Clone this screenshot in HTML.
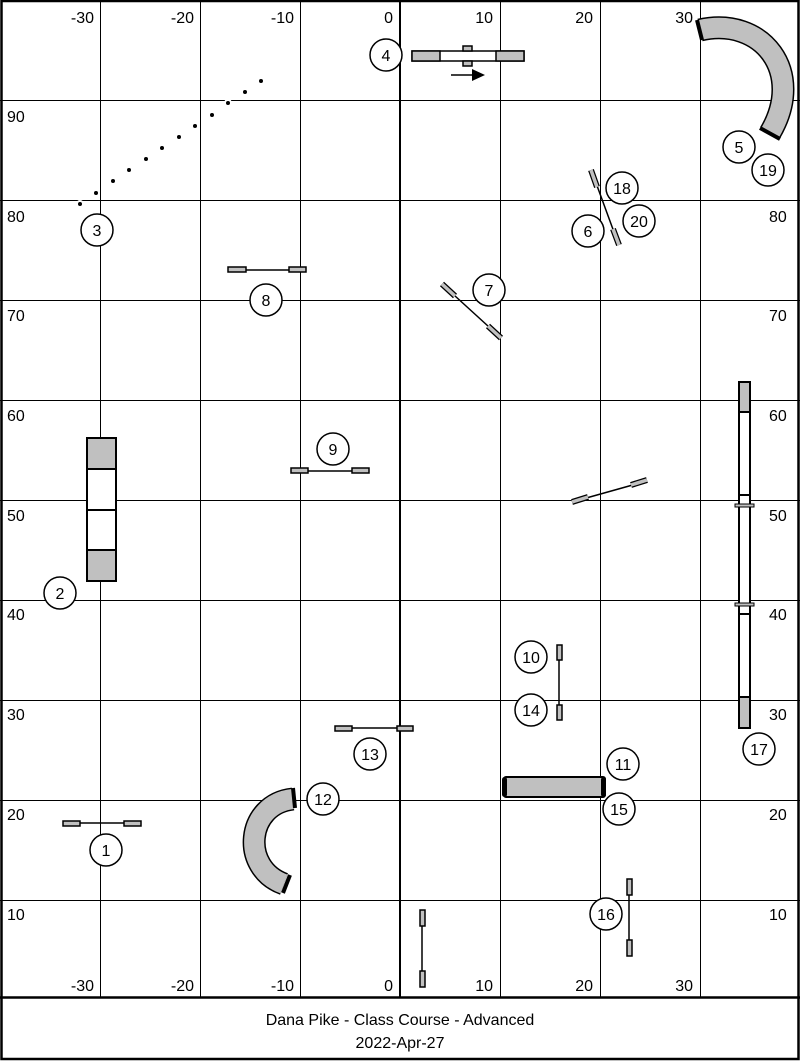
<!DOCTYPE html>
<html><head><meta charset="utf-8"><style>
html,body{margin:0;padding:0;background:#fff;}
svg{display:block;}
text{font-family:"Liberation Sans",Arial,sans-serif;font-size:16px;fill:#000;}
.n{text-anchor:middle;}
.g{stroke:#000;stroke-width:1;shape-rendering:crispEdges;}
.b{fill:#c0c0c0;stroke:#000;stroke-width:1.5;}
.c{fill:#fff;stroke:#000;stroke-width:1.5;}
</style></head><body>
<svg width="800" height="1061" viewBox="0 0 800 1061" xmlns="http://www.w3.org/2000/svg">
<rect x="0" y="0" width="800" height="1061" fill="#fff"/>
<g class="g">
<line x1="100.5" y1="0" x2="100.5" y2="997"/><line x1="200.5" y1="0" x2="200.5" y2="997"/>
<line x1="300.5" y1="0" x2="300.5" y2="997"/><line x1="500.5" y1="0" x2="500.5" y2="997"/>
<line x1="600.5" y1="0" x2="600.5" y2="997"/><line x1="700.5" y1="0" x2="700.5" y2="997"/>
<line x1="0" y1="100.5" x2="800" y2="100.5"/><line x1="0" y1="200.5" x2="800" y2="200.5"/>
<line x1="0" y1="300.5" x2="800" y2="300.5"/><line x1="0" y1="400.5" x2="800" y2="400.5"/>
<line x1="0" y1="500.5" x2="800" y2="500.5"/><line x1="0" y1="600.5" x2="800" y2="600.5"/>
<line x1="0" y1="700.5" x2="800" y2="700.5"/><line x1="0" y1="800.5" x2="800" y2="800.5"/>
<line x1="0" y1="900.5" x2="800" y2="900.5"/>
</g>
<line x1="400" y1="0" x2="400" y2="997" stroke="#000" stroke-width="2" shape-rendering="crispEdges"/>
<rect x="1.5" y="1" width="797" height="1058" fill="none" stroke="#000" stroke-width="2.5"/>
<line x1="0" y1="997.5" x2="800" y2="997.5" stroke="#000" stroke-width="2.5"/>
<g style="text-anchor:end">
<text x="94" y="23">-30</text><text x="194" y="23">-20</text><text x="294" y="23">-10</text>
<text x="393" y="23">0</text><text x="493" y="23">10</text><text x="593" y="23">20</text><text x="693" y="23">30</text>
<text x="94" y="991">-30</text><text x="194" y="991">-20</text><text x="294" y="991">-10</text>
<text x="393" y="991">0</text><text x="493" y="991">10</text><text x="593" y="991">20</text><text x="693" y="991">30</text>
</g>
<g>
<text x="7" y="122">90</text><text x="7" y="222">80</text><text x="7" y="321">70</text>
<text x="7" y="421">60</text><text x="7" y="521">50</text><text x="7" y="620">40</text>
<text x="7" y="720">30</text><text x="7" y="820">20</text><text x="7" y="920">10</text>
<text x="769" y="222">80</text><text x="769" y="321">70</text>
<text x="769" y="421">60</text><text x="769" y="521">50</text><text x="769" y="620">40</text>
<text x="769" y="720">30</text><text x="769" y="820">20</text><text x="769" y="920">10</text>
</g>
<g fill="#000" stroke="#fff" stroke-width="4" paint-order="stroke">
<circle cx="80" cy="204" r="2"/><circle cx="96" cy="193" r="2"/><circle cx="113" cy="181" r="2"/>
<circle cx="129" cy="170" r="2"/><circle cx="146" cy="159" r="2"/><circle cx="162" cy="148" r="2"/>
<circle cx="179" cy="137" r="2"/><circle cx="195" cy="126" r="2"/><circle cx="212" cy="115" r="2"/>
<circle cx="228" cy="103" r="2"/><circle cx="245" cy="92" r="2"/><circle cx="261" cy="81" r="2"/>
</g>
<rect x="412" y="51" width="112" height="10" fill="#fff" stroke="#000" stroke-width="1.5"/>
<rect x="412" y="51" width="28" height="10" class="b"/><rect x="496" y="51" width="28" height="10" class="b"/>
<rect x="463" y="46" width="9" height="5" class="b"/><rect x="463" y="61" width="9" height="5" class="b"/>
<line x1="451" y1="75" x2="474" y2="75" stroke="#000" stroke-width="1.5"/>
<polygon points="472,69 485,75 472,81" fill="#000"/>
<path d="M700,30 C762,16 806,72 770,133" fill="none" stroke="#000" stroke-width="23"/>
<path d="M700,30 C762,16 806,72 770,133" fill="none" stroke="#c0c0c0" stroke-width="20"/>
<line x1="697" y1="20" x2="702" y2="40" stroke="#000" stroke-width="4"/>
<line x1="760" y1="128" x2="780" y2="139" stroke="#000" stroke-width="4"/>
<line x1="592" y1="172" x2="618" y2="243" stroke="#000" stroke-width="1.5"/>
<line x1="591" y1="170" x2="597" y2="187" stroke="#000" stroke-width="6"/>
<line x1="591" y1="170" x2="597" y2="187" stroke="#c0c0c0" stroke-width="3.5"/>
<line x1="613" y1="229" x2="619" y2="245" stroke="#000" stroke-width="6"/>
<line x1="613" y1="229" x2="619" y2="245" stroke="#c0c0c0" stroke-width="3.5"/>
<line x1="443" y1="285" x2="500" y2="337" stroke="#000" stroke-width="1.5"/>
<line x1="442" y1="284" x2="455" y2="296" stroke="#000" stroke-width="6"/>
<line x1="442" y1="284" x2="455" y2="296" stroke="#c0c0c0" stroke-width="3.5"/>
<line x1="488" y1="326" x2="501" y2="338" stroke="#000" stroke-width="6"/>
<line x1="488" y1="326" x2="501" y2="338" stroke="#c0c0c0" stroke-width="3.5"/>
<line x1="572" y1="502" x2="647" y2="481" stroke="#000" stroke-width="1.5"/>
<line x1="572" y1="502" x2="588" y2="497" stroke="#000" stroke-width="6"/>
<line x1="572" y1="502" x2="588" y2="497" stroke="#c0c0c0" stroke-width="3.5"/>
<line x1="631" y1="485" x2="647" y2="480" stroke="#000" stroke-width="6"/>
<line x1="631" y1="485" x2="647" y2="480" stroke="#c0c0c0" stroke-width="3.5"/>
<g stroke="#000" stroke-width="1.5">
<line x1="240" y1="270" x2="295" y2="270"/>
<line x1="300" y1="471" x2="360" y2="471"/>
<line x1="345" y1="728" x2="405" y2="728"/>
<line x1="72" y1="823" x2="132" y2="823"/>
<line x1="559" y1="650" x2="559" y2="712"/>
<line x1="629" y1="887" x2="629" y2="948"/>
<line x1="422" y1="918" x2="422" y2="979"/>
</g>
<rect x="228" y="267" width="18" height="5" class="b"/><rect x="289" y="267" width="17" height="5" class="b"/>
<rect x="291" y="468" width="17" height="5" class="b"/><rect x="352" y="468" width="17" height="5" class="b"/>
<rect x="335" y="726" width="17" height="5" class="b"/><rect x="397" y="726" width="16" height="5" class="b"/>
<rect x="63" y="821" width="17" height="5" class="b"/><rect x="124" y="821" width="17" height="5" class="b"/>
<rect x="557" y="645" width="5" height="15" class="b"/><rect x="557" y="705" width="5" height="15" class="b"/>
<rect x="627" y="879" width="5" height="16" class="b"/><rect x="627" y="940" width="5" height="16" class="b"/>
<rect x="420" y="910" width="5" height="16" class="b"/><rect x="420" y="971" width="5" height="16" class="b"/>
<rect x="87" y="438" width="29" height="143" fill="#fff" stroke="#000" stroke-width="2"/>
<rect x="87" y="438" width="29" height="31" fill="#c0c0c0" stroke="#000" stroke-width="2"/>
<rect x="87" y="550" width="29" height="31" fill="#c0c0c0" stroke="#000" stroke-width="2"/>
<line x1="87" y1="510" x2="116" y2="510" stroke="#000" stroke-width="2"/>
<rect x="739" y="382" width="11" height="346" fill="#fff" stroke="#000" stroke-width="2"/>
<rect x="739" y="382" width="11" height="30" fill="#c0c0c0" stroke="#000" stroke-width="2"/>
<rect x="739" y="697" width="11" height="31" fill="#c0c0c0" stroke="#000" stroke-width="2"/>
<line x1="739" y1="495" x2="750" y2="495" stroke="#000" stroke-width="2"/>
<line x1="739" y1="614" x2="750" y2="614" stroke="#000" stroke-width="2"/>
<rect x="735" y="504" width="19" height="3" fill="#c0c0c0" stroke="#000" stroke-width="1"/>
<rect x="735" y="603" width="19" height="3" fill="#c0c0c0" stroke="#000" stroke-width="1"/>
<rect x="504" y="777" width="101" height="20" rx="2" fill="#c0c0c0" stroke="#000" stroke-width="2"/>
<rect x="502" y="777" width="5" height="20" rx="2.5" fill="#000"/>
<rect x="601" y="777" width="5" height="20" rx="2.5" fill="#000"/>
<path d="M293,799 C246,804 240,868 284,884" fill="none" stroke="#000" stroke-width="23"/>
<path d="M293,799 C246,804 240,868 284,884" fill="none" stroke="#c0c0c0" stroke-width="20"/>
<line x1="293" y1="788" x2="295" y2="808" stroke="#000" stroke-width="4"/>
<line x1="290" y1="875" x2="283" y2="893" stroke="#000" stroke-width="4"/>
<g>
<circle cx="386" cy="55" r="16" class="c"/><text class="n" x="386" y="61">4</text>
<circle cx="739" cy="147" r="16" class="c"/><text class="n" x="739" y="153">5</text>
<circle cx="768" cy="170" r="16" class="c"/><text class="n" x="768" y="176">19</text>
<circle cx="622" cy="188" r="16" class="c"/><text class="n" x="622" y="194">18</text>
<circle cx="639" cy="221" r="16" class="c"/><text class="n" x="639" y="227">20</text>
<circle cx="588" cy="231" r="16" class="c"/><text class="n" x="588" y="237">6</text>
<circle cx="97" cy="230" r="16" class="c"/><text class="n" x="97" y="236">3</text>
<circle cx="489" cy="290" r="16" class="c"/><text class="n" x="489" y="296">7</text>
<circle cx="266" cy="300" r="16" class="c"/><text class="n" x="266" y="306">8</text>
<circle cx="333" cy="449" r="16" class="c"/><text class="n" x="333" y="455">9</text>
<circle cx="60" cy="593" r="16" class="c"/><text class="n" x="60" y="599">2</text>
<circle cx="531" cy="657" r="16" class="c"/><text class="n" x="531" y="663">10</text>
<circle cx="531" cy="710" r="16" class="c"/><text class="n" x="531" y="716">14</text>
<circle cx="759" cy="749" r="16" class="c"/><text class="n" x="759" y="755">17</text>
<circle cx="370" cy="754" r="16" class="c"/><text class="n" x="370" y="760">13</text>
<circle cx="623" cy="764" r="16" class="c"/><text class="n" x="623" y="770">11</text>
<circle cx="323" cy="799" r="16" class="c"/><text class="n" x="323" y="805">12</text>
<circle cx="619" cy="809" r="16" class="c"/><text class="n" x="619" y="815">15</text>
<circle cx="106" cy="850" r="16" class="c"/><text class="n" x="106" y="856">1</text>
<circle cx="606" cy="914" r="16" class="c"/><text class="n" x="606" y="920">16</text>
</g>
<text class="n" x="400" y="1025">Dana Pike - Class Course - Advanced</text>
<text class="n" x="400" y="1048">2022-Apr-27</text>
</svg>
</body></html>
